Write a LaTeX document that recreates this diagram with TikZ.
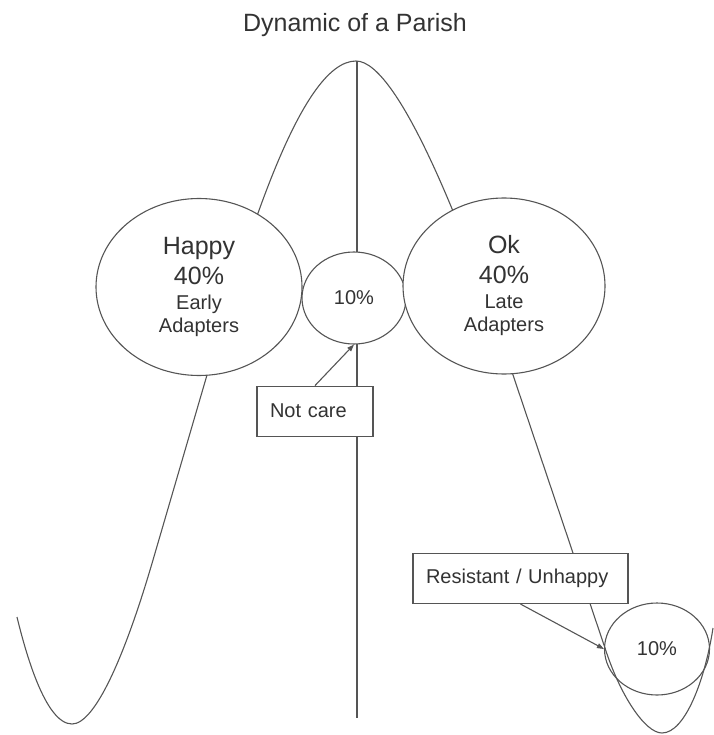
\documentclass[tikz,border=0pt]{standalone}
\usepackage{fontspec}
\setmainfont{Liberation Sans}
\usepackage{tikz}
\usetikzlibrary{shapes.geometric, arrows.meta, positioning}
\definecolor{pen}{HTML}{555555}
\definecolor{ink}{HTML}{333333}
\newcommand{\bigtxt}{\fontsize{25}{30}\selectfont}
\newcommand{\smalltxt}{\fontsize{20}{23}\selectfont}
\tikzset{
    wave/.style={draw=pen, line width=1.1pt},
    blob/.style={ellipse, draw=pen, fill=white, line width=1.1pt, inner sep=0pt, text=ink, align=center, font=\smalltxt},
    tag/.style={rectangle, draw=pen, fill=white, line width=1.1pt, inner xsep=13pt, minimum height=50pt, text=ink, align=left, font=\smalltxt},
    arrow/.style={draw=pen, line width=1.1pt, -{Triangle[length=7pt,width=5pt]}},
}

\begin{document}
\begin{tikzpicture}[x=1pt, y=-1pt]
    \useasboundingbox (0,0) rectangle (713,735);

    % the wave and the middle line
    \draw [wave] (17,617) .. controls (25,650) and (45,724) .. (72,724)
        .. controls (95,724) and (125,656) .. (153,560) -- (207,375)
        .. controls (245,245) and (300,61) .. (356,61)
        .. controls (400,61) and (470,245) .. (513,375) -- (605,648)
        .. controls (620,695) and (645,733) .. (662,733)
        .. controls (685,733) and (705,680) .. (713,628);
    \coordinate (top) at (357,61);
    \coordinate (foot) at (357,718);
    \draw [wave] (top) -- (foot);

    \node [anchor=base, font=\bigtxt, text=ink] (title) at (355,32) {Dynamic of a Parish};

    \node [blob, minimum width=206pt, minimum height=177pt] (happy) at (199,287)
        {{\bigtxt Happy}\\[7pt]{\bigtxt 40\%}\\[2pt]Early\\Adapters};
    \node [blob, minimum width=104pt, minimum height=92pt] (mid) at (354,298) {10\%};
    \node [blob, minimum width=202pt, minimum height=176pt] (ok) at (504,286)
        {{\bigtxt Ok}\\[7pt]{\bigtxt 40\%}\\[2pt]Late\\Adapters};
    \node [blob, fill=none, minimum width=105pt, minimum height=92pt] (low) at (657,649) {10\%};

    \node [tag, text width=90pt, below=41pt of mid, xshift=-39pt] (notcare) {Not care};
    \node [tag, text width=189pt] (resist) at (520.5,578.5) {Resistant / Unhappy};

    \draw [arrow] (notcare.north) -- (mid.south);
    \draw [arrow] (resist.south) -- (low.west);
\end{tikzpicture}
\end{document}
